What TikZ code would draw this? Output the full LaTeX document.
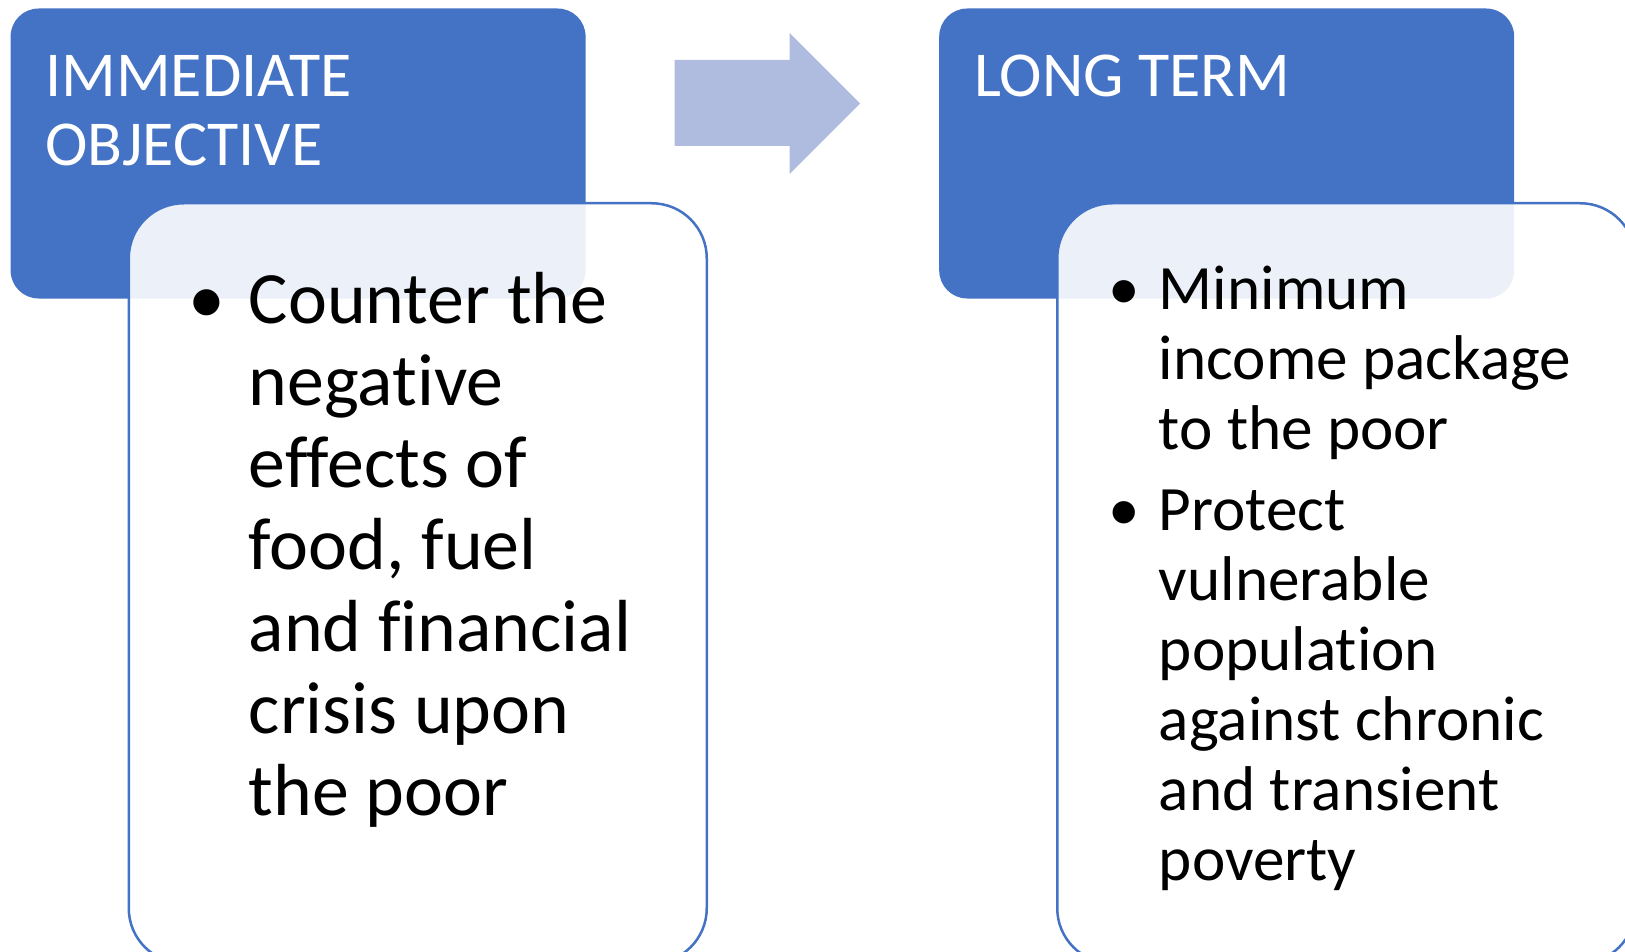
\documentclass[tikz,border=0pt]{standalone}
\usepackage{fontspec}
\setmainfont{Carlito}[Ligatures={NoCommon,NoRare}]
\usetikzlibrary{positioning}

\definecolor{accentblue}{RGB}{68,114,196}
\definecolor{arrowblue}{RGB}{175,188,223}

\tikzset{
  headbox/.style={fill=accentblue, rounded corners=28pt, minimum width=575pt, minimum height=290pt, anchor=north west, inner sep=0pt},
  listbox/.style={draw=accentblue, line width=2.5pt, fill=white, fill opacity=0.9, rounded corners=55pt, minimum width=578pt, minimum height=760pt, anchor=north west, inner sep=0pt},
  headtext/.style={text=white, anchor=base west, inner sep=0pt, align=left, font=\fontsize{64}{69.4}\selectfont},
  bigitem/.style={anchor=base west, inner sep=0pt, align=left, font=\fontsize{73.8}{82}\selectfont},
  smallitem/.style={anchor=base west, inner sep=0pt, align=left, font=\fontsize{63.2}{70}\selectfont},
}

\begin{document}
\begin{tikzpicture}[x=1pt, y=-1pt]
  \path[use as bounding box] (0,0) rectangle (1625,952);
  \clip (0,0) rectangle (1625,952);

  % header boxes
  \node[headbox] (immhead) at (10.4,8.3) {};
  \node[headbox] (longhead) at (939,8.3) {};

  % step arrow
  \fill[arrowblue] (674.7,60) -- (789.7,60) -- (789.7,33) -- (860,103.5)
    -- (789.7,174) -- (789.7,146) -- (674.7,146) -- cycle;

  % list boxes, laid over the headers
  \node[listbox] (immlist) at (127.5,202) {};
  \node[listbox] (longlist) at (1056,202) {};

  % headings (base = baseline of the last line)
  \node[headtext] (immtitle) at (45,165.8) {IMMEDIATE\\OBJECTIVE};
  \node[headtext] (longtitle) at (974,96.4) {LONG TERM};

  % bullet points
  \node[bigitem, anchor=base] (dotA) at (207,323) {\textbullet};
  \node[bigitem] (itemA) at (248.7,815)
    {Counter the\\negative\\effects of\\food, fuel\\and financial\\crisis upon\\the poor};

  \node[smallitem, anchor=base] (dotB) at (1124.5,309) {\textbullet};
  \node[smallitem] (itemB) at (1158.7,449) {Minimum\\income package\\to the poor};
  \node[smallitem, anchor=base] (dotC) at (1124.5,530) {\textbullet};
  \node[smallitem] (itemC) at (1158.7,880)
    {Protect\\vulnerable\\population\\against chronic\\and transient\\poverty};
\end{tikzpicture}
\end{document}
